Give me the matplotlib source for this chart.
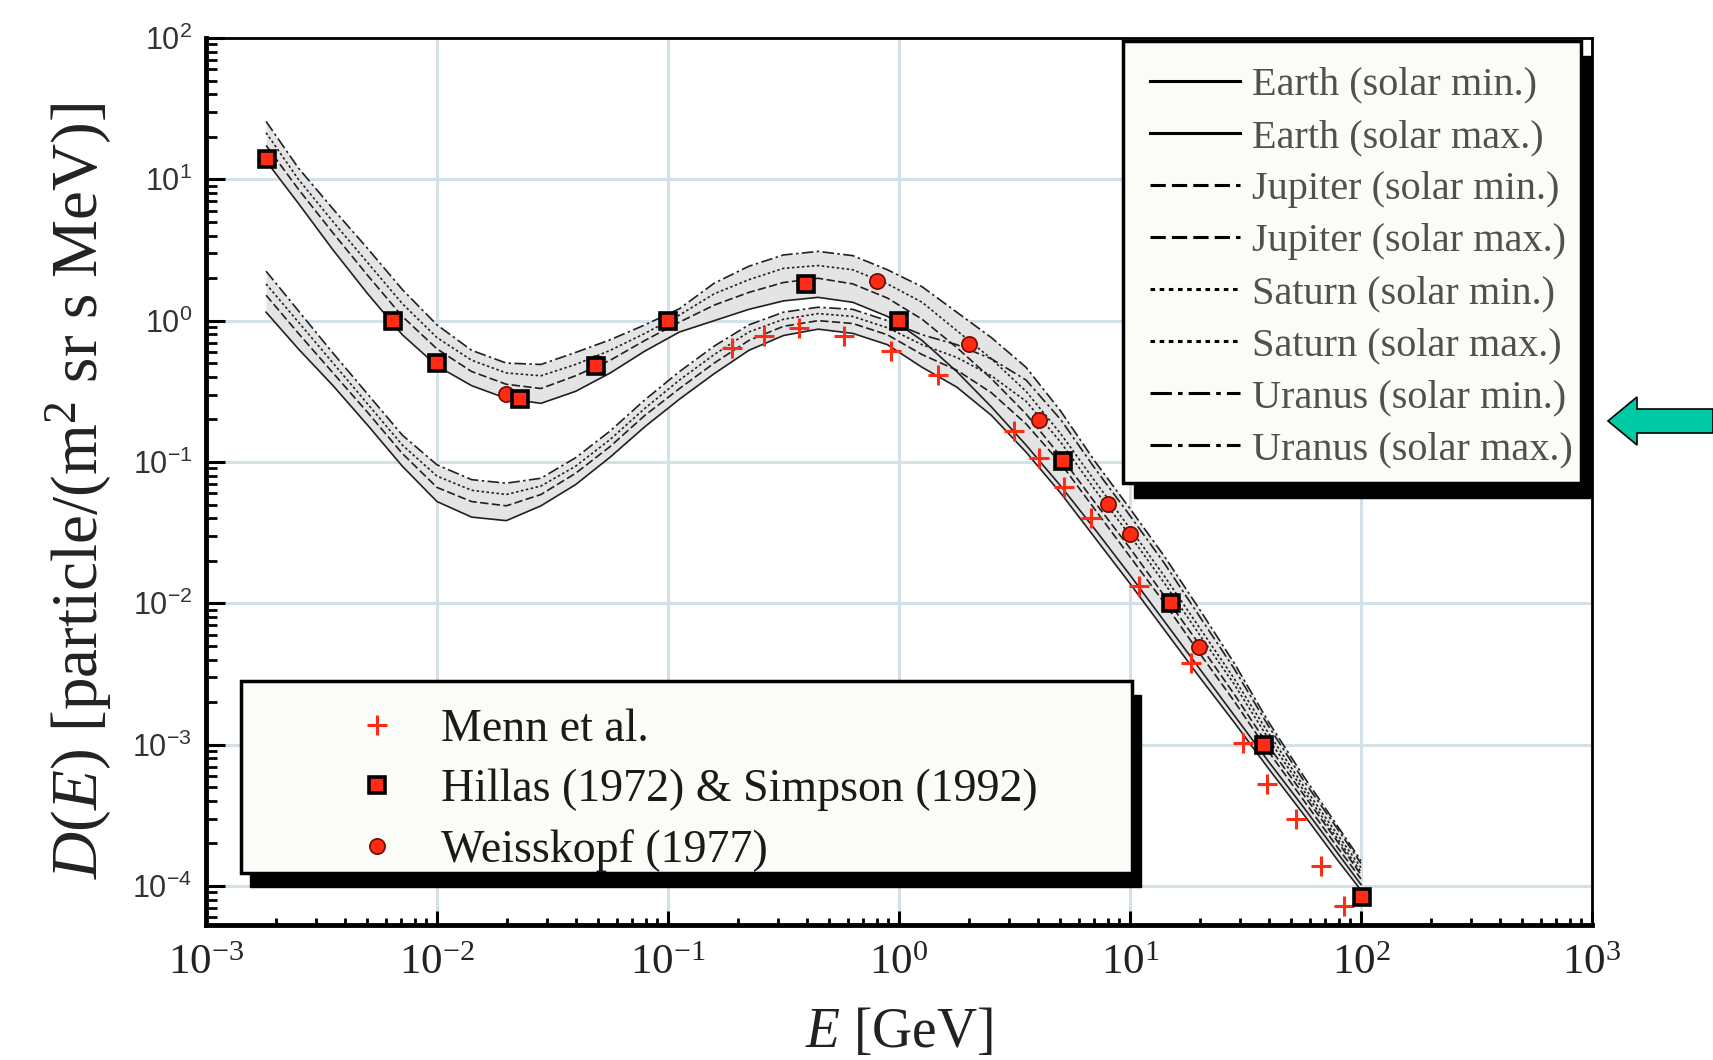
import numpy as np
import matplotlib
matplotlib.use('Agg')
import matplotlib.pyplot as plt
from matplotlib.lines import Line2D
from matplotlib.patches import Rectangle, Polygon
from matplotlib.ticker import FixedLocator, FuncFormatter, NullFormatter

plt.rcParams['font.family'] = ['Liberation Serif', 'DejaVu Serif']
plt.rcParams['mathtext.fontset'] = 'custom'
plt.rcParams['mathtext.rm'] = 'Liberation Serif'
plt.rcParams['mathtext.it'] = 'Liberation Serif:italic'
plt.rcParams['mathtext.sf'] = 'Liberation Sans'

# 能量网格 log10(E/GeV)
log_e = [-2.74, -2.6, -2.45, -2.3, -2.15, -2.0, -1.85, -1.7, -1.55, -1.4, -1.25,
         -1.1, -0.95, -0.8, -0.65, -0.5, -0.35, -0.2, -0.05, 0.1, 0.25, 0.4,
         0.55, 0.7, 0.85, 1.0, 1.15, 1.3, 1.45, 1.6, 1.75, 1.9, 2.0]

# log10 D(E), solar min (upper band)
log_earth_min = [1.13, 0.83, 0.50, 0.19, -0.10, -0.32, -0.46, -0.55, -0.585, -0.50, -0.37,
                 -0.215, -0.08, 0.0, 0.08, 0.14, 0.165, 0.13, 0.03, -0.14, -0.36, -0.61,
                 -0.88, -1.17, -1.48, -1.80, -2.13, -2.46, -2.79, -3.12, -3.44, -3.77, -3.99]
log_jupiter_min = [1.24, 0.93, 0.62, 0.32, 0.03, -0.20, -0.36, -0.45, -0.48, -0.39, -0.28,
                   -0.14, -0.01, 0.11, 0.20, 0.27, 0.30, 0.26, 0.16, 0.01, -0.19, -0.41,
                   -0.66, -0.96, -1.29, -1.61, -1.95, -2.29, -2.64, -3.01, -3.35, -3.69, -3.92]
log_saturn_min = [1.33, 1.0, 0.70, 0.41, 0.12, -0.12, -0.28, -0.37, -0.39, -0.31, -0.21,
                  -0.09, 0.04, 0.19, 0.29, 0.37, 0.39, 0.36, 0.26, 0.13, -0.07, -0.27,
                  -0.50, -0.80, -1.14, -1.47, -1.81, -2.17, -2.53, -2.92, -3.29, -3.64, -3.87]
log_uranus_min = [1.41, 1.08, 0.79, 0.51, 0.22, -0.03, -0.21, -0.30, -0.31, -0.225, -0.135,
                  -0.03, 0.085, 0.265, 0.385, 0.465, 0.49, 0.46, 0.36, 0.24, 0.06, -0.12,
                  -0.33, -0.64, -1.0, -1.33, -1.67, -2.04, -2.42, -2.84, -3.22, -3.58, -3.82]

# log10 D(E), solar max (lower band)
log_earth_max = [0.06, -0.20, -0.46, -0.74, -1.03, -1.28, -1.39, -1.415, -1.31, -1.16, -0.965,
                 -0.75, -0.555, -0.375, -0.21, -0.105, -0.06, -0.09, -0.17, -0.33, -0.47, -0.67,
                 -0.93, -1.22, -1.54, -1.86, -2.19, -2.52, -2.84, -3.17, -3.49, -3.82, -4.03]
log_jupiter_max = [0.18, -0.09, -0.37, -0.65, -0.94, -1.18, -1.28, -1.31, -1.23, -1.08, -0.89,
                   -0.67, -0.48, -0.30, -0.14, -0.04, 0.0, -0.02, -0.10, -0.24, -0.35, -0.51,
                   -0.73, -1.01, -1.34, -1.67, -2.0, -2.35, -2.69, -3.05, -3.39, -3.73, -3.95]
log_saturn_max = [0.26, -0.01, -0.30, -0.59, -0.88, -1.10, -1.20, -1.23, -1.17, -1.03, -0.84,
                  -0.62, -0.42, -0.24, -0.08, 0.01, 0.05, 0.03, -0.05, -0.17, -0.26, -0.39,
                  -0.57, -0.86, -1.20, -1.52, -1.86, -2.22, -2.57, -2.96, -3.32, -3.67, -3.90]
log_uranus_max = [0.35, 0.07, -0.23, -0.52, -0.81, -1.02, -1.125, -1.15, -1.115, -0.97, -0.78,
                  -0.56, -0.36, -0.18, -0.03, 0.06, 0.095, 0.08, 0.0, -0.10, -0.17, -0.27,
                  -0.42, -0.70, -1.05, -1.38, -1.72, -2.09, -2.46, -2.87, -3.25, -3.60, -3.84]

# 测量数据
menn_e = [0.19, 0.26, 0.37, 0.58, 0.92, 1.48, 3.15, 4.05, 5.2, 6.75, 10.9,
          18.3, 30.8, 39.3, 52.4, 66.8, 84.5]
menn_d = [0.64, 0.78, 0.89, 0.78, 0.61, 0.41, 0.166, 0.106, 0.067, 0.040, 0.0132,
          0.0038, 0.00102, 0.00053, 0.000298, 0.000138, 0.0000725]
hillas_e = [0.00183, 0.00645, 0.01, 0.0229, 0.049, 0.1, 0.394, 1.0, 5.12, 15.0, 38.1, 101]
hillas_d = [13.9, 1.0, 0.50, 0.277, 0.48, 1.0, 1.82, 1.0, 0.102, 0.010, 0.0010, 0.000084]
weiss_e = [0.0198, 0.0488, 0.803, 2.0, 4.04, 8.07, 10.0, 19.9]
weiss_d = [0.303, 0.50, 1.92, 0.684, 0.199, 0.0505, 0.0307, 0.0049]

# 坐标轴刻度 (10 的幂)
x_decades = [-3, -2, -1, 0, 1, 2, 3]
y_decades = [-4, -3, -2, -1, 0, 1, 2]

W, H = 1713, 1060
fig = plt.figure(figsize=(W / 100, H / 100), dpi=100)
ax = fig.add_axes([206 / W, (H - 925) / H, 1386 / W, 887 / H])

energy = 10.0 ** np.array(log_e)

def dval(arr):
    return 10.0 ** np.array(arr)

# 阴影带
ax.fill_between(energy, dval(log_earth_min), dval(log_uranus_min), color='#e4e4e4', lw=0, zorder=1.5)
ax.fill_between(energy, dval(log_earth_max), dval(log_uranus_max), color='#e4e4e4', lw=0, zorder=1.5)

styles = {
    'Earth': '-',
    'Jupiter': (0, (5, 2)),
    'Saturn': (0, (1.5, 1.5)),
    'Uranus': (0, (7, 2, 1.5, 2)),
}
series = [
    ('Earth', log_earth_min, log_earth_max),
    ('Jupiter', log_jupiter_min, log_jupiter_max),
    ('Saturn', log_saturn_min, log_saturn_max),
    ('Uranus', log_uranus_min, log_uranus_max),
]
handles = []
labels = []
for name, lmin, lmax in series:
    ax.plot(energy, dval(lmin), color='#202020', ls=styles[name], lw=1.2, zorder=2)
    ax.plot(energy, dval(lmax), color='#202020', ls=styles[name], lw=1.2, zorder=2)
    for phase in ['min', 'max']:
        handles.append(Line2D([], [], color='black', ls=styles[name], lw=2.2))
        labels.append(f'{name} (solar {phase}.)')

red = '#ff2b14'
m1, = ax.plot(menn_e, menn_d, ls='none', marker='+', ms=15, mew=2.2, color=red, zorder=3)
m2, = ax.plot(hillas_e, hillas_d, ls='none', marker='s', ms=12, mew=2.6,
              mfc=red, mec='black', zorder=3.2)
m3, = ax.plot(weiss_e, weiss_d, ls='none', marker='o', ms=11, mew=1.2,
              mfc=red, mec='#6e0c00', zorder=3.1)

ax.set_xscale('log')
ax.set_yscale('log')
ax.set_xlim(1e-3, 1e3)
ax.set_ylim(10 ** -4.276, 100)

ax.xaxis.set_major_locator(FixedLocator([10.0 ** d for d in x_decades]))
ax.yaxis.set_major_locator(FixedLocator([10.0 ** d for d in y_decades]))
x_minor = [k * 10.0 ** d for d in x_decades[:-1] for k in range(2, 10)]
y_minor = [k * 10.0 ** d for d in [-5] + y_decades[:-1] for k in range(2, 10)]
y_minor = [v for v in y_minor if v > 10 ** -4.276]
ax.xaxis.set_minor_locator(FixedLocator(x_minor))
ax.yaxis.set_minor_locator(FixedLocator(y_minor))
ax.xaxis.set_minor_formatter(NullFormatter())
ax.yaxis.set_minor_formatter(NullFormatter())
ax.xaxis.set_major_formatter(FuncFormatter(lambda v, p: r'$\mathrm{10^{%d}}$' % round(np.log10(v))))
ax.yaxis.set_major_formatter(FuncFormatter(lambda v, p: r'$\mathsf{10^{%d}}$' % round(np.log10(v))))

ax.tick_params(which='both', direction='in', top=False, right=False)
ax.tick_params(axis='y', which='major', length=14, width=2.2, pad=10, labelsize=22, labelcolor='#333333')
ax.tick_params(axis='y', which='minor', length=8, width=2)
ax.tick_params(axis='x', which='major', length=10, width=2.2, pad=14, labelsize=31, labelcolor='#222222')
ax.tick_params(axis='x', which='minor', length=5, width=2)

ax.grid(True, which='major', color='#d4e0e8', lw=2.2)
ax.set_axisbelow(True)
for side in ['left', 'bottom']:
    ax.spines[side].set_linewidth(3.5)
for side in ['top', 'right']:
    ax.spines[side].set_linewidth(2)

ax.set_xlabel(r'$E$ [GeV]', fontsize=40, va='center', color='#222222')
ax.xaxis.set_label_coords(0.5, -0.122)
ax.set_ylabel(r'$D(E)$ [particle/(m$^2$ sr s MeV)]', fontsize=47, va='center', color='#222222')
ax.yaxis.set_label_coords(-0.092, 0.49)

# 图例框 + 黑色阴影
def legend_box(x0, y0, x1, y1, dx, dy):
    px, py = dx / 1386, dy / 887
    ax.add_patch(Rectangle((x0 + px, y0 - py), x1 - x0, y1 - y0, transform=ax.transAxes,
                           facecolor='black', edgecolor='black', zorder=4.4, clip_on=False))
    ax.add_patch(Rectangle((x0, y0), x1 - x0, y1 - y0, transform=ax.transAxes,
                           facecolor='#fbfcf7', edgecolor='black', lw=2.5, zorder=4.5, clip_on=False))

legend_box(0.6616, 0.4983, 0.9921, 0.9966, 11, 15)
legend_box(0.0253, 0.0586, 0.6681, 0.2751, 9, 14)

leg1 = ax.legend(handles, labels, loc='upper left', bbox_to_anchor=(0.681, 0.9677),
                 frameon=False, borderpad=0, borderaxespad=0, fontsize=29,
                 handlelength=2.23, handletextpad=0.3, labelspacing=0.37, labelcolor='#505050')
leg1.set_zorder(5)
ax.add_artist(leg1)

leg2 = ax.legend([m1, m2, m3], ['Menn et al.', 'Hillas (1972) & Simpson (1992)', 'Weisskopf (1977)'],
                 loc='upper left', bbox_to_anchor=(0.1035, 0.2436), frameon=False,
                 borderpad=0, borderaxespad=0, fontsize=33, numpoints=1,
                 handlelength=1.2, handletextpad=0.8, labelspacing=0.38, labelcolor='#1a1a1a')
leg2.set_zorder(5)

# 右侧箭头
arrow_px = [(1608, 421), (1637, 397), (1637, 409), (1713, 409), (1713, 433), (1637, 433), (1637, 445)]
fig.patches.append(Polygon([(x / W, 1 - y / H) for x, y in arrow_px], closed=True,
                           transform=fig.transFigure, facecolor='#00c9a5', edgecolor='black', lw=1.2))

fig.savefig('out.png', dpi=100)
